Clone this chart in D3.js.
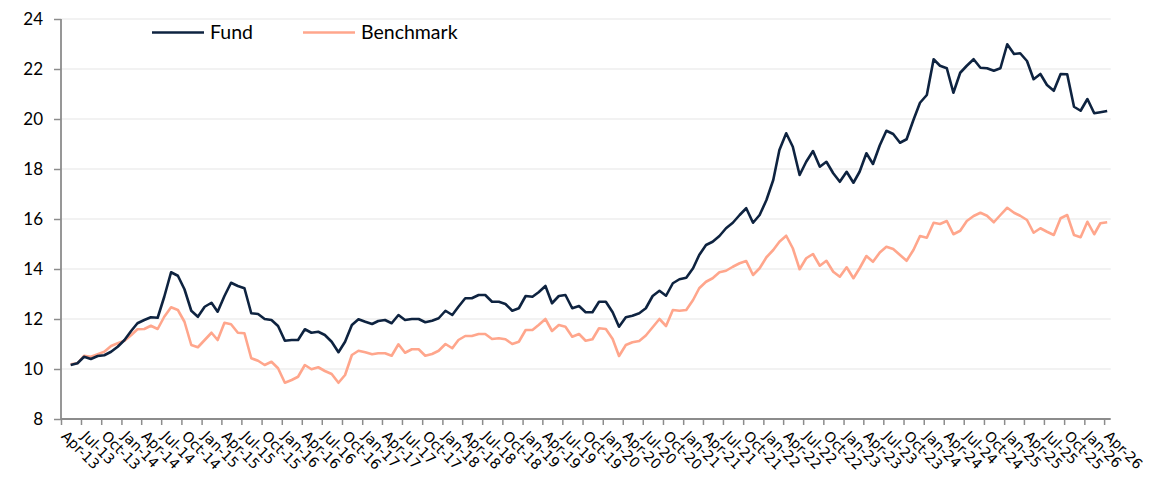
<!DOCTYPE html>
<html><head><meta charset="utf-8">
<script src="https://cdn.jsdelivr.net/npm/d3@7"></script>
<style>
body{margin:0;background:#fff;}
svg{display:block;font-family:Lato,"Open Sans",sans-serif;}
</style></head><body>
<svg id="chart" width="1176" height="489"></svg>
<script>
// Monthly observations, May-13 .. Apr-26
const firstMonth = [2013, 4]; // year, zero-based month (May)
const fund = [10.16,10.23,10.49,10.40,10.52,10.55,10.69,10.89,11.16,11.53,11.83,11.96,12.07,12.05,12.89,13.87,13.73,13.19,12.33,12.09,12.49,12.65,12.29,12.92,13.45,13.32,13.23,12.23,12.20,12.00,11.96,11.72,11.13,11.16,11.16,11.59,11.45,11.49,11.36,11.09,10.67,11.09,11.76,11.99,11.89,11.80,11.92,11.96,11.83,12.16,11.96,12.00,12.00,11.87,11.93,12.03,12.33,12.16,12.49,12.83,12.83,12.96,12.96,12.69,12.69,12.60,12.33,12.43,12.92,12.89,13.07,13.32,12.63,12.92,12.96,12.43,12.52,12.27,12.27,12.69,12.69,12.27,11.69,12.07,12.13,12.23,12.43,12.92,13.13,12.93,13.43,13.59,13.65,14.03,14.56,14.96,15.09,15.32,15.63,15.85,16.16,16.43,15.85,16.16,16.76,17.56,18.76,19.43,18.89,17.76,18.29,18.72,18.09,18.29,17.83,17.49,17.89,17.45,17.89,18.63,18.20,18.95,19.53,19.40,19.05,19.19,19.96,20.65,20.96,22.39,22.13,22.03,21.05,21.85,22.13,22.39,22.05,22.03,21.93,22.03,22.99,22.60,22.63,22.32,21.59,21.80,21.36,21.13,21.80,21.79,20.49,20.33,20.80,20.23,20.27,20.32];
const benchmark = [10.19,10.23,10.53,10.49,10.59,10.69,10.92,11.03,11.13,11.36,11.59,11.60,11.73,11.60,12.09,12.47,12.36,11.89,10.96,10.87,11.16,11.45,11.16,11.85,11.79,11.45,11.43,10.43,10.33,10.16,10.29,10.03,9.45,9.56,9.69,10.16,9.99,10.07,9.92,9.80,9.45,9.76,10.56,10.73,10.67,10.59,10.63,10.63,10.53,10.99,10.65,10.79,10.79,10.53,10.60,10.73,11.00,10.83,11.16,11.32,11.32,11.40,11.40,11.20,11.23,11.19,11.00,11.09,11.56,11.56,11.76,12.00,11.52,11.76,11.69,11.29,11.40,11.13,11.19,11.63,11.60,11.20,10.52,10.96,11.07,11.12,11.34,11.67,12.00,11.72,12.36,12.33,12.36,12.76,13.23,13.49,13.63,13.87,13.93,14.09,14.23,14.32,13.76,14.03,14.47,14.76,15.09,15.33,14.83,13.99,14.43,14.60,14.13,14.33,13.89,13.69,14.07,13.63,14.03,14.52,14.29,14.66,14.89,14.80,14.56,14.33,14.76,15.32,15.25,15.85,15.80,15.92,15.39,15.53,15.92,16.12,16.25,16.13,15.87,16.16,16.45,16.25,16.13,15.96,15.45,15.63,15.49,15.36,16.03,16.16,15.36,15.27,15.89,15.39,15.83,15.87];
const yTicks = [8,10,12,14,16,18,20,22,24];
const seriesNames = ["Fund","Benchmark"];
const seriesColors = ["#0e2340","#ffa68c"];

const svg = d3.select("#chart");
const x = d3.scaleTime()
  .domain([new Date(2013,3,1), new Date(2026,4,1)])
  .range([61, 1110.7]);
const y = d3.scaleLinear().domain([8,24]).range([419,19]);

const dates = fund.map((_,i)=> new Date(firstMonth[0], firstMonth[1]+i, 15));

// gridlines
svg.append("g").selectAll("line").data(yTicks.filter(t=>t>8)).join("line")
  .attr("x1",61).attr("x2",1110.7)
  .attr("y1",d=>y(d)).attr("y2",d=>y(d))
  .attr("stroke","#eeeeee").attr("stroke-width",1.5);

// y axis
const yAxis = svg.append("g").attr("transform","translate(61,0)")
  .call(d3.axisLeft(y).tickValues(yTicks).tickSize(7).tickPadding(11).tickFormat(d3.format("d")));
yAxis.select(".domain").attr("stroke","#8c8c8c").attr("stroke-width",1.8).attr("d","M0,19V419");
yAxis.selectAll(".tick line").attr("stroke","#8c8c8c").attr("stroke-width",1.5);
yAxis.selectAll(".tick text").attr("font-size",17).attr("fill","#000").attr("font-family","Lato");

// x axis
const xTicks = d3.timeMonth.every(3).range(new Date(2013,3,1), new Date(2026,3,2));
const xAxis = svg.append("g").attr("transform","translate(0,419)")
  .call(d3.axisBottom(x).tickValues(xTicks).tickSize(6).tickFormat(d3.timeFormat("%b-%y")));
xAxis.select(".domain").attr("stroke","#8c8c8c").attr("stroke-width",1.8).attr("d","M61,0H1110.7");
xAxis.selectAll(".tick line").attr("stroke","#8c8c8c").attr("stroke-width",1.5);
xAxis.selectAll(".tick text")
  .attr("font-size",14.2).attr("fill","#000").attr("font-family","DejaVu Sans")
  .attr("text-anchor","start").attr("dy",null).attr("y",null)
  .attr("transform","translate(-1,18) rotate(45)");

// lines
const line = d3.line().x((d,i)=>x(dates[i])).y(d=>y(d));
[benchmark, fund].forEach((s,k)=>{
  const idx = k===0?1:0;
  svg.append("path").datum(s).attr("d",line)
    .attr("fill","none").attr("stroke",seriesColors[idx])
    .attr("stroke-width",2.6).attr("stroke-linejoin","round");
});

// legend
const legendX = [152, 303];
seriesNames.forEach((n,i)=>{
  const g = svg.append("g");
  g.append("line").attr("x1",legendX[i]).attr("x2",legendX[i]+52)
    .attr("y1",32.5).attr("y2",32.5).attr("stroke",seriesColors[i]).attr("stroke-width",2.6);
  g.append("text").attr("x",legendX[i]+58).attr("y",39).attr("font-size",19.5)
    .attr("font-family","Lato").text(n);
});
</script>
</body></html>
